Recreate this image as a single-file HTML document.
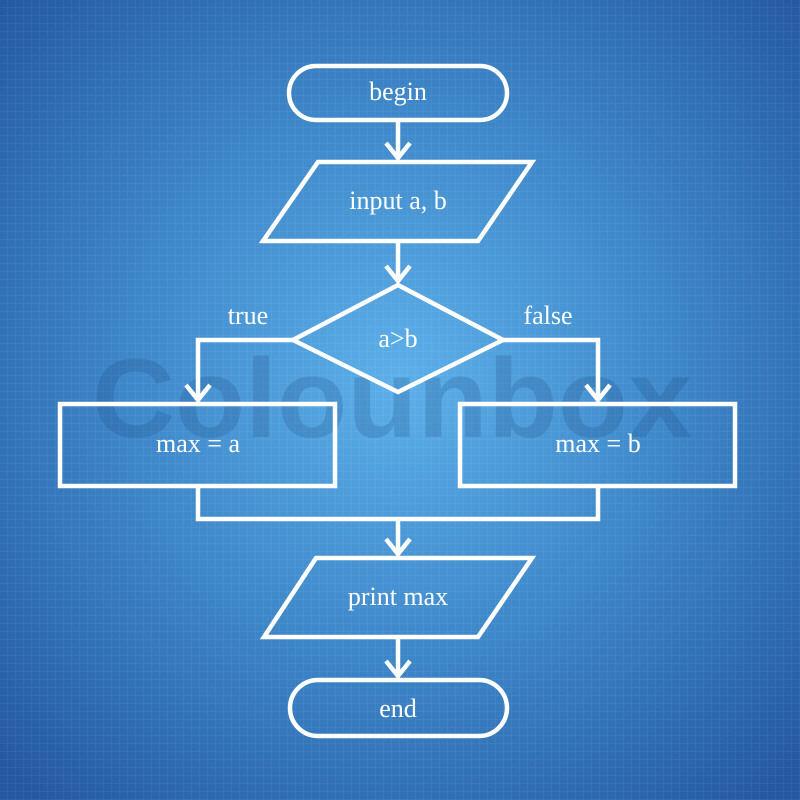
<!DOCTYPE html>
<html><head><meta charset="utf-8"><style>html,body{margin:0;padding:0;width:800px;height:800px;overflow:hidden}</style></head>
<body>
<svg width="800" height="800" viewBox="0 0 800 800" xmlns="http://www.w3.org/2000/svg">
<defs>
<radialGradient id="bg" cx="400" cy="380" r="560" gradientUnits="userSpaceOnUse">
<stop offset="0" stop-color="#5db0ea"/>
<stop offset="0.5" stop-color="#3d86c8"/>
<stop offset="1" stop-color="#2458a0"/>
</radialGradient>
<pattern id="grid" width="8" height="8" patternUnits="userSpaceOnUse">
<path d="M8 0V8H0" fill="none" stroke="#ffffff" stroke-opacity="0.09" stroke-width="1"/>
</pattern>
</defs>
<rect width="800" height="800" fill="url(#bg)"/>
<rect width="800" height="800" fill="url(#grid)"/>
<text x="392" y="437" text-anchor="middle" font-family="Liberation Sans, sans-serif" font-weight="bold" font-size="112" fill="#1d4a80" fill-opacity="0.22" textLength="600" lengthAdjust="spacingAndGlyphs">Colounbox</text>
<g fill="none" stroke="#fff" stroke-width="4.5" stroke-linejoin="miter">
<rect x="289" y="66" width="218" height="54" rx="27"/>
<line x1="398" y1="120" x2="398" y2="158"/>
<polyline points="386,143 398,158 410,143"/>
<polygon points="318,162 532,162 478,241 263,241"/>
<line x1="398" y1="241" x2="398" y2="281"/>
<polyline points="386,266 398,281 410,266"/>
<polygon points="398,285 503,340 398,392 293,340"/>
<polyline points="293,340 198,340 198,400"/>
<polyline points="186,385 198,400 210,385"/>
<polyline points="503,340 598,340 598,400"/>
<polyline points="586,385 598,400 610,385"/>
<rect x="60" y="404" width="275" height="82"/>
<rect x="460" y="404" width="275" height="82"/>
<polyline points="198,486 198,519 598,519 598,486"/>
<line x1="398" y1="519" x2="398" y2="554"/>
<polyline points="386,539 398,554 410,539"/>
<polygon points="316,558 532,558 478,637 264,637"/>
<line x1="398" y1="637" x2="398" y2="676"/>
<polyline points="386,661 398,676 410,661"/>
<rect x="290" y="680" width="217" height="56" rx="28"/>
</g>
<g font-family="Liberation Serif, serif" font-size="26" fill="#fff" text-anchor="middle">
<text x="398" y="100">begin</text>
<text x="398" y="209">input a, b</text>
<text x="398" y="347">a&gt;b</text>
<text x="248" y="324">true</text>
<text x="548" y="324">false</text>
<text x="198" y="452">max = a</text>
<text x="598" y="452">max = b</text>
<text x="398" y="605">print max</text>
<text x="398" y="717">end</text>
</g>
</svg>
</body></html>
